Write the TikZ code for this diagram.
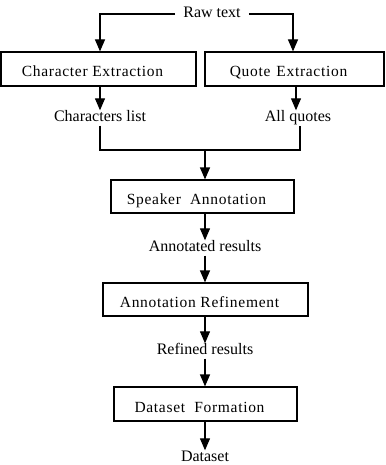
\documentclass[tikz,border=0pt]{standalone}
\usepackage{fontspec}
\setmainfont{Liberation Serif}
\newfontfamily\boxfont{Liberation Serif}[LetterSpace=4.5]
\usepackage{tikz}
\usetikzlibrary{arrows.meta,calc}

\begin{document}
\begin{tikzpicture}[x=1pt,y=-1pt,font=\fontsize{16}{19}\selectfont,
    stage/.style={draw,line width=1.2pt,inner sep=0pt,minimum height=33pt,text height=16pt,text depth=0pt,
      font=\fontsize{15.5}{18}\selectfont\boxfont,execute at end node=\hspace*{12pt}},
    lbl/.style={inner sep=1pt,text height=10pt,text depth=3pt},
    link/.style={line width=1.2pt},
    arr/.style={line width=1.2pt,-{Triangle[width=10pt,length=12pt]}}]
    \useasboundingbox (0,0) rectangle (385,465);
    \node[lbl,inner xsep=8pt] (raw) at (212,14) {Raw text};
    \node[stage,minimum width=195pt,minimum height=34pt] (charbox) at (98.5,69) {Character Extraction};
    \node[stage,minimum width=179pt,minimum height=34pt] (quotebox) at (294.5,69) {Quote\hspace{6pt}Extraction};
    \node[lbl] (charlist) at (100,118) {Characters list};
    \node[lbl] (quotes) at (298,118) {All quotes};
    \coordinate (join) at (205,150);
    \node[stage,minimum width=183pt] (speaker) at (202.5,196.5) {Speaker\ \ Annotation};
    \node[lbl] (annot) at (205,248) {Annotated results};
    \node[stage,minimum width=205pt] (refine) at (205.5,299.5) {Annotation Refinement};
    \node[lbl] (refined) at (205,351) {Refined results};
    \node[stage,minimum width=183pt,minimum height=34pt] (dataform) at (205.5,404) {Dataset\ \ Formation};
    \node[lbl] (dataset) at (205,458) {Dataset};
    \draw[arr] (raw.west) -| ([xshift=1.5pt]charbox.north);
    \draw[arr] (raw.east) -| ([xshift=-1.5pt]quotebox.north);
    \draw[arr] (charlist.north |- charbox.south) -- (charlist.north);
    \draw[arr] ([xshift=-2pt]quotes.north |- quotebox.south) -- ([xshift=-2pt]quotes.north);
    \draw[link] (charlist.south) |- (join) -| ([xshift=2pt]quotes.south);
    \draw[arr] (join) -- (join |- speaker.north);
    \draw[arr] (speaker.south -| annot) -- (annot.north);
    \draw[arr] (annot.south) -- (annot.south |- refine.north);
    \draw[arr] (refine.south -| refined) -- (refined.north);
    \draw[arr] (refined.south) -- (refined.south |- dataform.north);
    \draw[arr] (dataform.south -| dataset) -- (dataset.north);
\end{tikzpicture}
\end{document}
